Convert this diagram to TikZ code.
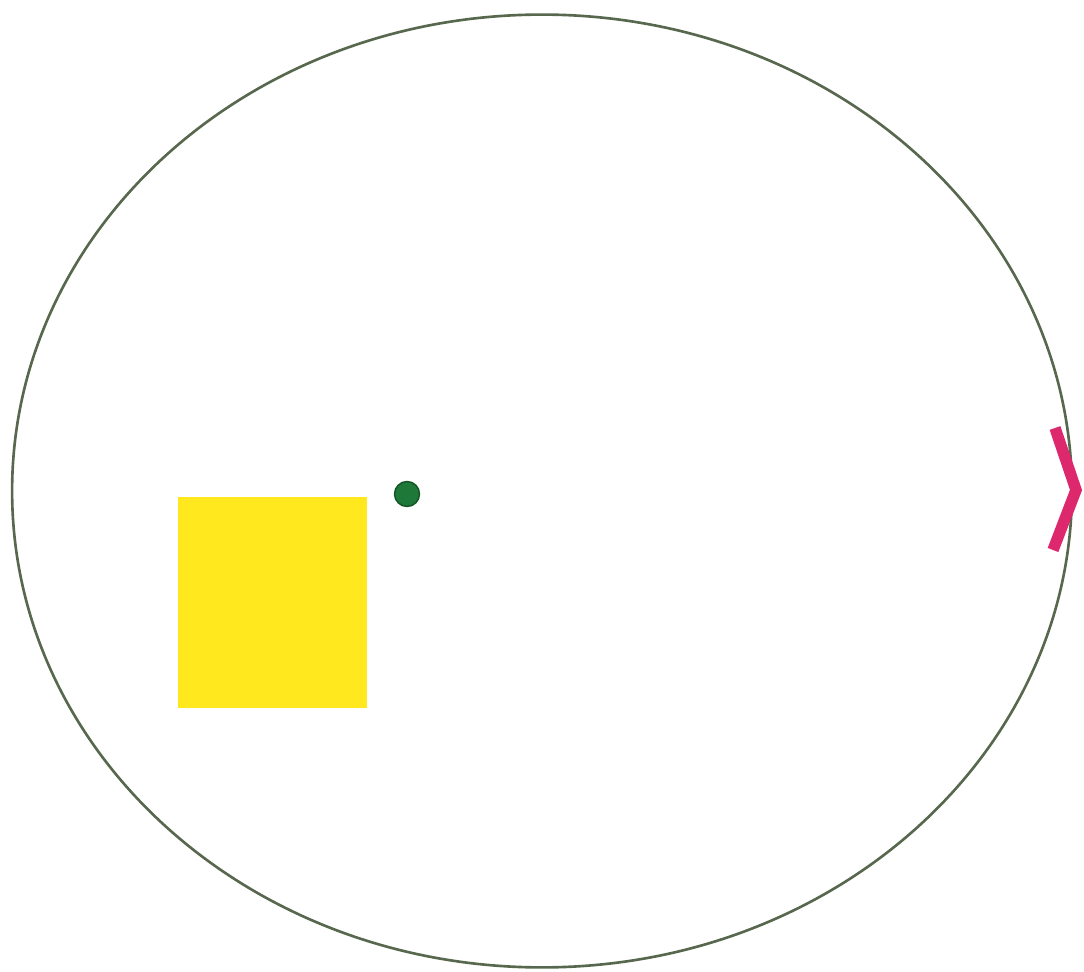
\documentclass[tikz,border=0pt]{standalone}
\usepackage{xcolor}
\usepackage{tikz}
\usetikzlibrary{positioning, shapes.geometric}
\definecolor{orbit}{RGB}{88,104,78}
\definecolor{sunyellow}{RGB}{255,233,30}
\definecolor{dotgreen}{RGB}{30,120,55}
\definecolor{mark}{RGB}{222,40,110}
\begin{document}
\begin{tikzpicture}[
  x=0.02cm, y=-0.02cm,
  rim/.style={ellipse, draw=orbit, line width=1.5pt, inner sep=0pt,
              minimum width=21.2cm, minimum height=19.06cm},
  sq/.style={fill=sunyellow, inner sep=0pt, minimum width=3.78cm, minimum height=4.22cm},
  spot/.style={circle, fill=dotgreen, draw=dotgreen!70!black, line width=0.8pt,
               inner sep=0pt, minimum size=0.5cm},
  chev/.style={draw=mark, line width=6.5pt, line join=miter}
]
\useasboundingbox (0,0) rectangle (1084,972);

\node[rim] (orbit) at (542,491) {};
\node[sq] (block) at (272.5,602.5) {};
\node[spot] (planet) at (407,494) {};

% marker on the right edge
\draw[chev] (1055,428) -- (1076,490) -- (1053,550);

\end{tikzpicture}
\end{document}
